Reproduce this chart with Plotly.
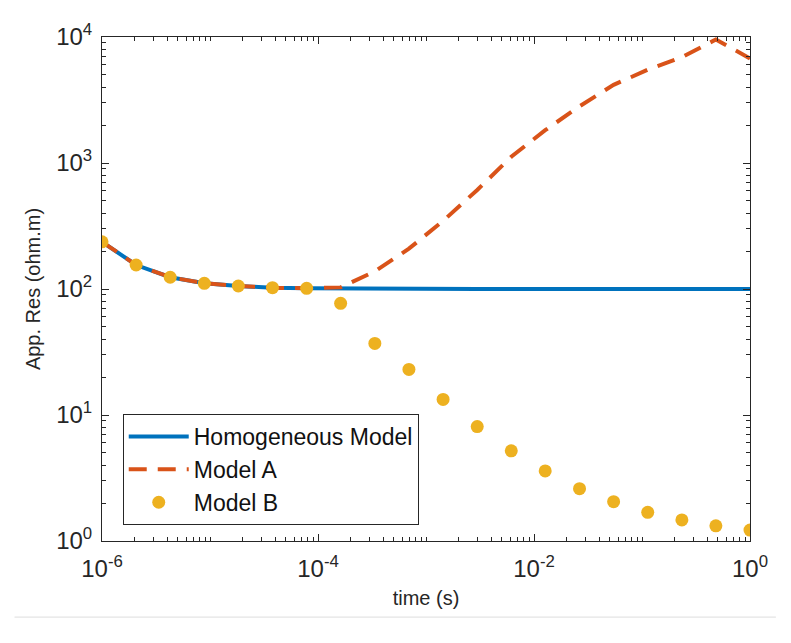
import numpy as np
import plotly.graph_objects as go

# time samples (s): 20 log-spaced samples from 1e-6 to 1
time_s = [1.0e-06, 2.07e-06, 4.28e-06, 8.86e-06, 1.83e-05, 3.79e-05, 7.85e-05,
          1.62e-04, 3.36e-04, 6.95e-04, 1.44e-03, 2.98e-03, 6.16e-03, 1.27e-02,
          2.64e-02, 5.46e-02, 1.13e-01, 2.34e-01, 4.83e-01, 1.0]

homogeneous = [237, 155, 124, 111, 105.6, 102.4, 101.2, 100.6, 100.3, 100.1,
               100, 100, 100, 100, 100, 100, 100, 100, 100, 100]
model_a = [237, 155, 124, 111, 105.6, 102.4, 101.4, 103, 138, 209,
           347, 611, 1120, 1820, 2820, 4170, 5500, 6920, 9550, 6760]
model_b = [237, 155, 124, 111, 105.6, 102.4, 101.2, 77, 37, 23,
           13.3, 8.1, 5.2, 3.6, 2.6, 2.05, 1.69, 1.47, 1.32, 1.22]

x_tick_vals = [1e-6, 1e-4, 1e-2, 1]
x_tick_text = ["10<sup>-6</sup>", "10<sup>-4</sup>", "10<sup>-2</sup>", "10<sup>0</sup>"]
y_tick_vals = [1, 10, 100, 1000, 10000]
y_tick_text = ["10<sup>0</sup>", "10<sup>1</sup>", "10<sup>2</sup>", "10<sup>3</sup>", "10<sup>4</sup>"]

x_minor = [m * 10.0 ** d for d in range(-6, 0) for m in range(1, 10) if not (m == 1 and d % 2 == 0)]
y_minor = [m * 10.0 ** d for d in range(0, 4) for m in range(2, 10)]

BLUE = "#0072BD"
ORANGE = "#D95319"
YELLOW = "#EDB120"
AX = "#262626"
FONT = "Liberation Sans, Arial, sans-serif"

fig = go.Figure()
fig.add_trace(go.Scatter(x=time_s, y=homogeneous, mode="lines", name="Homogeneous Model",
                         line=dict(color=BLUE, width=4)))
fig.add_trace(go.Scatter(x=time_s, y=model_a, mode="lines", name="Model A",
                         line=dict(color=ORANGE, width=4, dash="18px,11px")))
fig.add_trace(go.Scatter(x=time_s, y=model_b, mode="markers", name="Model B",
                         marker=dict(color=YELLOW, size=13, line=dict(width=0))))

axis_common = dict(
    type="log", showgrid=False, zeroline=False, showline=True, linecolor=AX, linewidth=1,
    mirror="allticks", ticks="inside", ticklen=7, tickcolor=AX, tickwidth=1,
    tickfont=dict(family=FONT, size=24, color=AX),
)
fig.update_xaxes(**axis_common, range=[-6, 0], tickvals=x_tick_vals, ticktext=x_tick_text,
                 ticklabelstandoff=6,
                 minor=dict(ticks="inside", ticklen=4, tickcolor=AX, tickvals=x_minor),
                 title=dict(text="time (s)", font=dict(family=FONT, size=20, color=AX), standoff=10))
fig.update_yaxes(**axis_common, range=[0, 4], tickvals=y_tick_vals, ticktext=y_tick_text,
                 ticklabelstandoff=4,
                 minor=dict(ticks="inside", ticklen=4, tickcolor=AX, tickvals=y_minor),
                 title=dict(text="App. Res (ohm.m)", font=dict(family=FONT, size=20, color=AX), standoff=10))

fig.update_layout(
    width=791, height=643,
    margin=dict(l=102, r=41, t=37, b=102),
    paper_bgcolor="white", plot_bgcolor="white",
    font=dict(family=FONT, color=AX),
    legend=dict(x=0.032, y=0.252, xanchor="left", yanchor="top",
                bgcolor="white", bordercolor=AX, borderwidth=1,
                font=dict(family=FONT, size=23, color="#111111"),
                tracegroupgap=0, itemwidth=60),
    showlegend=True,
    shapes=[dict(type="line", xref="paper", yref="paper", x0=-0.135, x1=1.04,
                 y0=-0.151, y1=-0.151, line=dict(color="#dddddd", width=1))],
)

fig.write_html("out.html")
